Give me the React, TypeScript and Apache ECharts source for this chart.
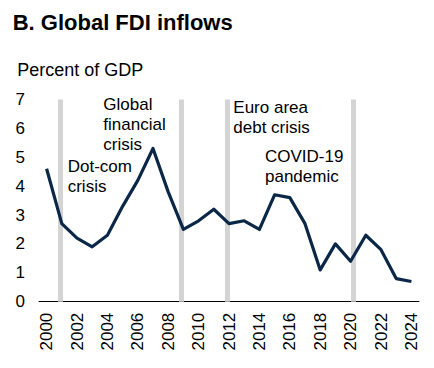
import React, { useEffect, useRef } from "react";
import * as echarts from "echarts";

const years = [
  "2000","2001","2002","2003","2004","2005","2006","2007","2008","2009","2010","2011","2012",
  "2013","2014","2015","2016","2017","2018","2019","2020","2021","2022","2023","2024",
];
const fdiInflows = [
  4.6, 2.7, 2.2, 1.9, 2.3, 3.3, 4.2, 5.3, 3.8, 2.5, 2.8, 3.2, 2.7,
  2.8, 2.5, 3.7, 3.6, 2.7, 1.1, 2.0, 1.4, 2.3, 1.8, 0.8, 0.7,
];
const crisisMarkers = [2000.87, 2008.88, 2011.88, 2020.17];
const yTicks = [0, 1, 2, 3, 4, 5, 6, 7];

const FONT = "'Liberation Sans', Arial, Helvetica, sans-serif";

export default function App() {
  const ref = useRef<HTMLDivElement>(null);
  useEffect(() => {
    if (!ref.current) return;
    const chart = echarts.init(ref.current, undefined, { renderer: "svg" });
    const textStyle = { fontFamily: FONT, fontSize: 17, fill: "#000" };
    chart.setOption({
      animation: false,
      textStyle: { fontFamily: FONT },
      grid: { left: 39, right: 15, top: 99.4, bottom: 66.3 },
      xAxis: [
        {
          type: "category",
          data: years,
          boundaryGap: true,
          axisLine: { show: true, lineStyle: { color: "#000", width: 1 } },
          axisTick: { show: false },
          axisLabel: {
            interval: 1,
            rotate: 90,
            margin: 11,
            color: "#000",
            fontSize: 17,
            fontFamily: FONT,
          },
          splitLine: { show: false },
        },
        {
          type: "value",
          min: 1999.5,
          max: 2024.5,
          show: false,
          splitLine: { show: false },
        },
      ],
      yAxis: {
        type: "value",
        min: 0,
        max: 7,
        interval: 1,
        axisLine: { show: false },
        axisTick: { show: false },
        splitLine: { show: false },
        axisLabel: {
          margin: 14,
          color: "#000",
          fontSize: 17,
          fontFamily: FONT,
          formatter: (v: number) => (yTicks.includes(v) ? String(v) : ""),
        },
      },
      series: [
        {
          type: "line",
          xAxisIndex: 1,
          yAxisIndex: 0,
          data: crisisMarkers.map((x) => [x, 0]),
          symbol: "none",
          lineStyle: { opacity: 0 },
          silent: true,
          z: 1,
          markLine: {
            silent: true,
            symbol: ["none", "none"],
            label: { show: false },
            lineStyle: { type: "solid", color: "#d4d4d4", width: 5 },
            data: crisisMarkers.map((x) => ({ xAxis: x })),
          },
        },
        {
          type: "line",
          data: fdiInflows,
          symbol: "none",
          z: 5,
          lineStyle: { color: "#0b2748", width: 3.2, join: "round" },
        },
      ],
      graphic: [
        {
          type: "text",
          left: 12.7,
          top: 11,
          style: { text: "B. Global FDI inflows", fontFamily: FONT, fontSize: 22, fontWeight: "bold", fill: "#000" },
        },
        {
          type: "text",
          left: 17.3,
          top: 60.5,
          style: { text: "Percent of GDP", fontFamily: FONT, fontSize: 18, fill: "#000" },
        },
        {
          type: "text",
          x: 103.3,
          y: 94.2,
          style: { ...textStyle, text: "Global\nfinancial\ncrisis", lineHeight: 20, verticalAlign: "top" },
        },
        {
          type: "text",
          x: 67.7,
          y: 157,
          style: { ...textStyle, text: "Dot-com\ncrisis", lineHeight: 19.5, verticalAlign: "top" },
        },
        {
          type: "text",
          x: 233.3,
          y: 97.5,
          style: { ...textStyle, text: "Euro area\ndebt crisis", lineHeight: 20, verticalAlign: "top" },
        },
        {
          type: "text",
          x: 265,
          y: 147,
          style: { ...textStyle, text: "COVID-19\npandemic", lineHeight: 19.5, verticalAlign: "top" },
        },
      ],
    });
    return () => chart.dispose();
  }, []);
  return (
    <div
      ref={ref}
      style={{ position: "fixed", left: 0, top: 0, width: 434, height: 368, background: "#fff" }}
    />
  );
}
